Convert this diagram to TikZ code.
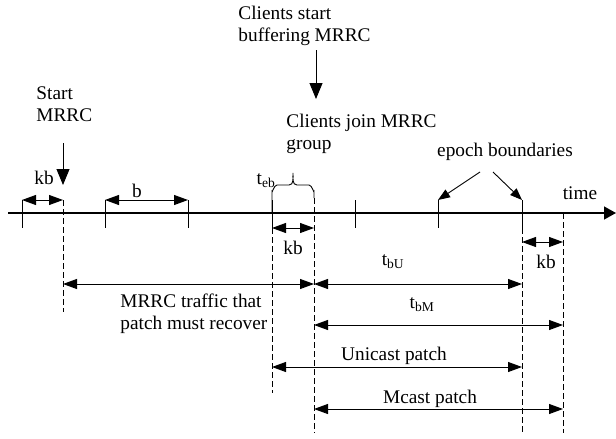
\documentclass[tikz,border=0pt]{standalone}
\usepackage{fontspec}
\setmainfont{Liberation Serif}
\usetikzlibrary{arrows.meta}

\begin{document}
\begin{tikzpicture}[x=1pt, y=-1pt, line width=0.9pt,
    font=\fontsize{19.3}{22}\selectfont,
    dim/.style={{Triangle[length=14pt,width=10pt]}-{Triangle[length=14pt,width=10pt]}},
    down/.style={-{Triangle[length=16pt,width=13pt]}},
    guide/.style={dash pattern=on 6pt off 3pt},
    lbl/.style={inner sep=0pt}]
    \useasboundingbox (0,0) rectangle (616,439);
    % time axis
    \coordinate (O) at (8,213);
    \coordinate (T) at (616,213);
    \draw[line width=1.3pt, -{Triangle[length=12pt,width=13pt]}] (O) -- (T);
    \foreach \x in {22,105,188,272,355,438,522}
        \draw (\x,200) -- (\x,228);
    \node[lbl] (time) at (580,193) {time};

    % points on the axis
    \coordinate (K0) at (22,200);
    \coordinate (S) at (63,200);
    \coordinate (B0) at (105,200);
    \coordinate (B1) at (188,200);
    \coordinate (J0) at (272,228);
    \coordinate (J1) at (314,228);
    \coordinate (P0) at (522,242);
    \coordinate (P1) at (563,242);
    \coordinate (E0) at (438,200);
    \coordinate (E1) at (522,200);

    % guide lines
    \draw[guide] (S) -- (63,312);
    \draw[guide] (J0) -- (272,393);
    \draw[guide] (314,198) -- (314,433);
    \draw[guide] (522,228) -- (522,433);
    \draw[guide] (563,213) -- (563,433);

    % brace for t_eb
    \draw (272,213) -- (272,191) to[out=270,in=180] (277,185) -- (289,185)
        to[out=0,in=270] (293,173) to[out=270,in=180] (297,185) -- (309,185)
        to[out=0,in=270] (314,191) -- (314,198);
    \node[lbl] (teb) at (266,181) {t\textsubscript{eb}};

    % spans
    \draw[dim] (K0) -- (S);
    \node[lbl] (kbA) at (44,178) {kb};
    \draw[dim] (B0) -- (B1);
    \node[lbl] (b) at (137,191) {b};
    \draw[dim] (J0) -- (J1);
    \node[lbl] (kbB) at (293,248) {kb};
    \draw[dim] (P0) -- (P1);
    \node[lbl] (kbC) at (546,262) {kb};

    \coordinate (M0) at (63,284);
    \coordinate (M1) at (314,284);
    \coordinate (M2) at (522,284);
    \draw[dim] (M0) -- (M1);
    \draw[dim] (M1) -- (M2);
    \node[lbl] (tbU) at (393,262) {t\textsubscript{bU}};
    \node[lbl, align=left, anchor=west] (lost) at (120,314)
        {MRRC traffic that\\patch must recover};

    \coordinate (N0) at (314,325);
    \coordinate (N1) at (563,325);
    \draw[dim] (N0) -- (N1);
    \node[lbl] (tbM) at (422,305) {t\textsubscript{bM}};

    \coordinate (U0) at (272,367);
    \coordinate (U1) at (522,367);
    \draw[dim] (U0) -- (U1);
    \node[lbl] (uni) at (394,356) {Unicast patch};

    \coordinate (C0) at (314,409);
    \coordinate (C1) at (563,409);
    \draw[dim] (C0) -- (C1);
    \node[lbl] (mc) at (430,399) {Mcast patch};

    % events
    \node[lbl, align=left, anchor=west] (start) at (36,104) {Start\\MRRC};
    \coordinate (s0) at (63,143);
    \coordinate (s1) at (63,185);
    \draw[down] (s0) -- (s1);

    \node[lbl, align=left, anchor=west] (buf) at (238,26) {Clients start\\buffering MRRC};
    \coordinate (c0) at (316,50);
    \coordinate (c1) at (316,99);
    \draw[down] (c0) -- (c1);
    \node[lbl, align=left, anchor=west] (join) at (286,134) {Clients join MRRC\\group};

    \node[lbl] (epoch) at (505,152) {epoch boundaries};
    \coordinate (e0) at (480,172);
    \coordinate (e1) at (493,172);
    \draw[-{Triangle[length=12pt,width=9pt]}] (e0) -- (E0);
    \draw[-{Triangle[length=12pt,width=9pt]}] (e1) -- (E1);
\end{tikzpicture}
\end{document}
